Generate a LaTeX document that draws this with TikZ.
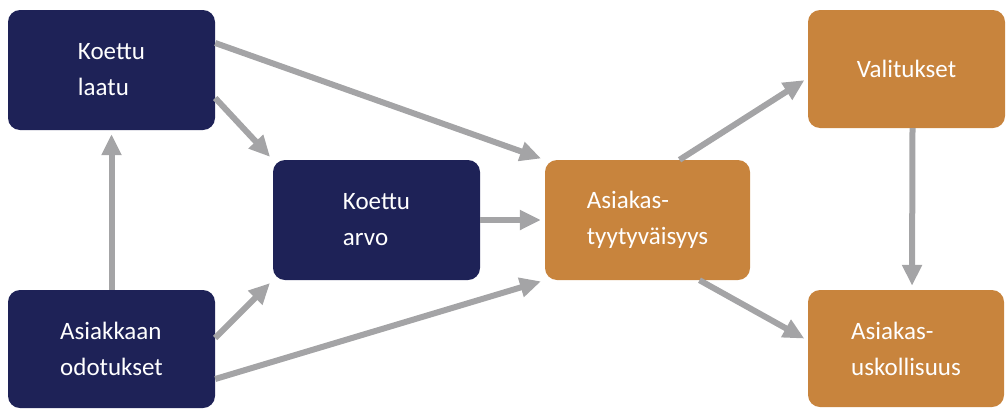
\documentclass[tikz,border=0pt]{standalone}
\usepackage{fontspec}
\setmainfont{Carlito}
\usetikzlibrary{arrows.meta}
\definecolor{navybox}{HTML}{1E2257}
\definecolor{orangebox}{HTML}{C8843D}
\definecolor{arrowgray}{HTML}{A4A4A6}

\begin{document}
\begin{tikzpicture}[x=1pt,y=-1pt]
	\tikzstyle{every node}+=[inner sep=0pt, text=white, align=left, font=\fontsize{25}{36}\selectfont]
	\tikzstyle{navy}=[fill=navybox, rounded corners=12pt]
	\tikzstyle{orange}=[fill=orangebox, rounded corners=12pt]
	\tikzstyle{link}=[draw=arrowgray, line width=6pt, -{Triangle[length=21pt,width=19pt]}, shorten >=4pt]
	\useasboundingbox (0,0) rectangle (1006,410);
	\node [navy, minimum width=207pt, minimum height=120pt] (laatu) at (111.5,70) {Koettu\\laatu};
	\node [navy, minimum width=207pt, minimum height=118pt] (odotukset) at (111.5,349) {Asiakkaan\\odotukset};
	\node [navy, minimum width=207pt, minimum height=120pt] (arvo) at (376.5,220) {Koettu\\arvo};
	\node [orange, minimum width=205pt, minimum height=120pt] (tyyt) at (647.5,220) {Asiakas-\\tyytyväisyys};
	\node [orange, minimum width=197pt, minimum height=118pt] (valitukset) at (906.5,69) {Valitukset};
	\node [orange, minimum width=196pt, minimum height=117pt] (uskoll) at (906,348.5) {Asiakas-\\uskollisuus};
	\draw [link] ([yshift=27pt]laatu.east) -- (tyyt.north west);
	\draw [link] ([yshift=-28pt]laatu.east) -- (arvo.north west);
	\draw [link] (odotukset.north) -- (laatu.south);
	\draw [link] ([yshift=11pt]odotukset.east) -- (arvo.south west);
	\draw [link] ([yshift=-30pt]odotukset.east) -- (tyyt.south west);
	\draw [link] (arvo.east) -- (tyyt.west);
	\draw [link] ([xshift=32pt]tyyt.north) -- ([yshift=-9pt]valitukset.west);
	\draw [link] ([xshift=52pt]tyyt.south) -- ([yshift=8pt]uskoll.west);
	\draw [link] ([xshift=6pt]valitukset.south) -- ([xshift=6pt]uskoll.north);
\end{tikzpicture}
\end{document}
